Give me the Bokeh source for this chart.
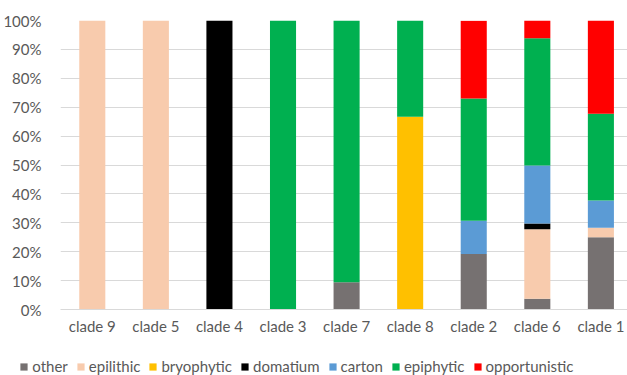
from bokeh.plotting import figure
from bokeh.layouts import column
from bokeh.models import (Range1d, FixedTicker, PrintfTickFormatter, Legend, LegendItem,
                          ColumnDataSource)
from bokeh.embed import file_html
from bokeh.resources import INLINE

# Share of each nesting habit per clade (percent)
categories = ["clade 9", "clade 5", "clade 4", "clade 3", "clade 7",
              "clade 8", "clade 2", "clade 6", "clade 1"]
other = [0, 0, 0, 0, 9.4, 0, 19.2, 3.7, 25.0]
epilithic = [100, 100, 0, 0, 0, 0, 0, 24.1, 3.3]
bryophytic = [0, 0, 0, 0, 0, 66.7, 0, 0, 0]
domatium = [0, 0, 100, 0, 0, 0, 0, 2.0, 0]
carton = [0, 0, 0, 0, 0, 0, 11.5, 20.0, 9.4]
epiphytic = [0, 0, 0, 100, 90.6, 33.3, 42.3, 44.1, 30.0]
opportunistic = [0, 0, 0, 0, 0, 0, 26.9, 6.1, 32.3]

series = ["other", "epilithic", "bryophytic", "domatium", "carton", "epiphytic", "opportunistic"]
colors = ["#767171", "#F8CBAD", "#FFC000", "#000000", "#5B9BD5", "#00B050", "#FF0000"]

positions = list(range(len(categories)))
source = ColumnDataSource(dict(
    x=positions, other=other, epilithic=epilithic, bryophytic=bryophytic,
    domatium=domatium, carton=carton, epiphytic=epiphytic, opportunistic=opportunistic,
))

FONT = "Lato"
TEXT = "#595959"
GRID = "#d9d9d9"
SIZE = "15px"

p = figure(frame_width=569, frame_height=289, output_backend="svg", toolbar_location=None,
           x_range=Range1d(-0.5, 8.45), y_range=Range1d(0, 100),
           min_border_left=58, min_border_right=0, min_border_top=20, min_border_bottom=32)
p.outline_line_color = None

p.vbar_stack(series, x="x", width=0.41, source=source, color=colors, line_width=0)

# y axis
p.yaxis.ticker = FixedTicker(ticks=list(range(0, 101, 10)))
p.yaxis.formatter = PrintfTickFormatter(format="%d%%")
p.yaxis.axis_line_color = None
p.yaxis.major_tick_line_color = None
p.yaxis.minor_tick_line_color = None
p.yaxis.major_label_standoff = 13
p.yaxis.major_label_text_font = FONT
p.yaxis.major_label_text_font_size = SIZE
p.yaxis.major_label_text_color = TEXT

# x axis
p.xaxis.ticker = FixedTicker(ticks=positions)
p.xaxis.major_label_overrides = {i: c for i, c in enumerate(categories)}
p.xaxis.axis_line_color = GRID
p.xaxis.major_tick_line_color = None
p.xaxis.minor_tick_line_color = None
p.xaxis.major_tick_in = 0
p.xaxis.major_tick_out = 0
p.xaxis.major_label_standoff = 7
p.xaxis.major_label_text_font = FONT
p.xaxis.major_label_text_font_size = SIZE
p.xaxis.major_label_text_color = TEXT

p.xgrid.grid_line_color = None
p.ygrid.grid_line_color = GRID
p.ygrid.ticker = FixedTicker(ticks=list(range(0, 101, 10)))

# legend strip under the chart, its frame lined up with the chart's frame;
# swatch renderers are zero-height bars
leg = figure(frame_width=569, frame_height=48, output_backend="svg", toolbar_location=None,
             x_range=Range1d(0, 1), y_range=Range1d(0, 1),
             x_axis_location=None, y_axis_location=None,
             min_border_left=58, min_border_right=0,
             min_border_top=0, min_border_bottom=0, outline_line_color=None)
leg.grid.visible = False
swatches = [leg.vbar(x=[0.5], top=[0], bottom=[0], width=0.001, color=c, line_width=0)
            for c in colors]
legend = Legend(items=[LegendItem(label=s, renderers=[r]) for s, r in zip(series, swatches)],
                orientation="horizontal", location=(0, 14),
                glyph_width=9, glyph_height=9, label_standoff=4, spacing=8,
                padding=0, margin=0, border_line_color=None, background_fill_alpha=0,
                label_text_font=FONT, label_text_font_size=SIZE, label_text_color=TEXT)
leg.add_layout(legend, "center")

layout = column(p, leg, spacing=0)
open("out.html", "w").write(file_html(layout, INLINE))
